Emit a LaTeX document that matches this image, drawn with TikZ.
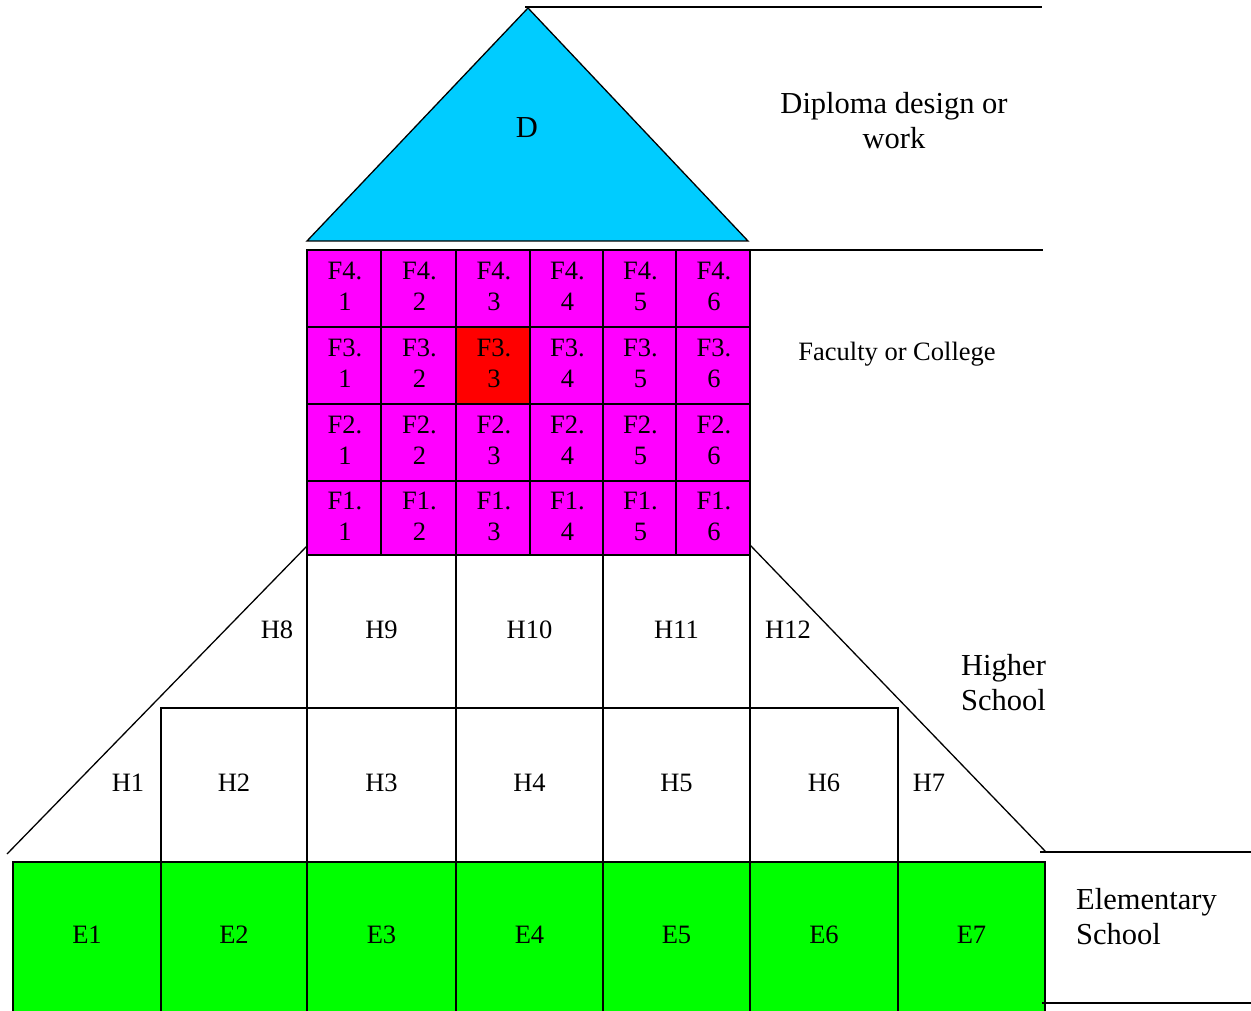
\documentclass[tikz,border=0pt]{standalone}
\usepackage{fontspec}
\setmainfont{Liberation Serif}
\definecolor{dcyan}{RGB}{0,204,255}
\definecolor{fmag}{RGB}{255,0,255}
\definecolor{fred}{RGB}{255,0,0}
\definecolor{egreen}{RGB}{0,255,0}
\newcommand\fsmall{\fontsize{26.5}{31}\selectfont}
\newcommand\flarge{\fontsize{30.5}{35}\selectfont}
\begin{document}
\begin{tikzpicture}[x=1pt,y=-1pt,
  gridcell/.style={draw=black, line width=2.2pt},
  thinline/.style={draw=black, line width=1.3pt},
  lab/.style={font=\fsmall, align=center, inner sep=0pt},
  biglab/.style={font=\flarge, align=center, inner sep=0pt}]
\useasboundingbox (0,0) rectangle (1251,1011);

% roof
\coordinate (apex) at (528,8);
\coordinate (roofL) at (307,241);
\coordinate (roofR) at (748,241);
\filldraw[fill=dcyan, thinline] (apex) -- (roofR) -- (roofL) -- cycle;
\node[biglab] (D) at (527,128) {D};
\coordinate (topR) at (1042,7);
\draw[thinline] (525,7) coordinate (topL) -- (topR);

% faculty grid
\foreach \r/\ya/\yb in {4/250/327, 3/327/404, 2/404/481, 1/481/555}{
  \foreach \c/\xa/\xb in {1/307/381, 2/381/456, 3/456/530, 4/530/603, 5/603/676, 6/676/750}{
    \def\fc{fmag}\ifnum\r\c=33 \def\fc{fred}\fi
    \filldraw[gridcell, fill=\fc] (\xa,\ya) rectangle (\xb,\yb);
    \node[lab] (F\r\c) at ({(\xa+\xb)/2+1},{(\ya+\yb)/2-2}) {F\r.\\\c};
  }
}
\coordinate (facR) at (1043,250);
\draw[gridcell] (750,250) coordinate (facL) -- (facR);

% higher school
\foreach \n/\xa/\xb in {9/307/456, 10/456/603, 11/603/750}{
  \draw[gridcell] (\xa,555) rectangle (\xb,708);
  \node[lab] (H\n) at ({(\xa+\xb)/2},630) {H\n};
}
\foreach \n/\xa/\xb in {2/161/307, 3/307/456, 4/456/603, 5/603/750, 6/750/898}{
  \draw[gridcell] (\xa,708) rectangle (\xb,862);
  \node[lab] (H\n) at ({(\xa+\xb)/2},783) {H\n};
}
\node[lab] (H1) at (128,783) {H1};
\node[lab] (H7) at (929,783) {H7};
\node[lab] (H8) at (277,630) {H8};
\node[lab] (H12) at (788,630) {H12};

% side slopes
\coordinate (slLtop) at (307,546);
\coordinate (slLbot) at (7,854);
\coordinate (slRtop) at (750,545);
\coordinate (slRbot) at (1046,852);
\draw[thinline] (slLtop) -- (slLbot);
\draw[thinline] (slRtop) -- (slRbot);
\coordinate (hsR) at (1251,852);
\draw[thinline] (1040,852) coordinate (hsL) -- (hsR);

% elementary school
\foreach \n/\xa/\xb in {1/13/161, 2/161/307, 3/307/456, 4/456/603, 5/603/750, 6/750/898, 7/898/1045}{
  \filldraw[gridcell, fill=egreen] (\xa,862) rectangle (\xb,1013);
  \node[lab] (E\n) at ({(\xa+\xb)/2},935) {E\n};
}
\coordinate (esR) at (1251,1003);
\draw[thinline] (1042,1003) coordinate (esL) -- (esR);

% level labels
\node[biglab] (diploma) at (894,121) {Diploma design or\\work};
\node[lab] (faculty) at (897,354) {Faculty or College};
\node[biglab, align=left, anchor=west] (higher) at (961,683) {Higher\\School};
\node[biglab, align=left, anchor=west] (elem) at (1076,917) {Elementary\\School};
\end{tikzpicture}
\end{document}
